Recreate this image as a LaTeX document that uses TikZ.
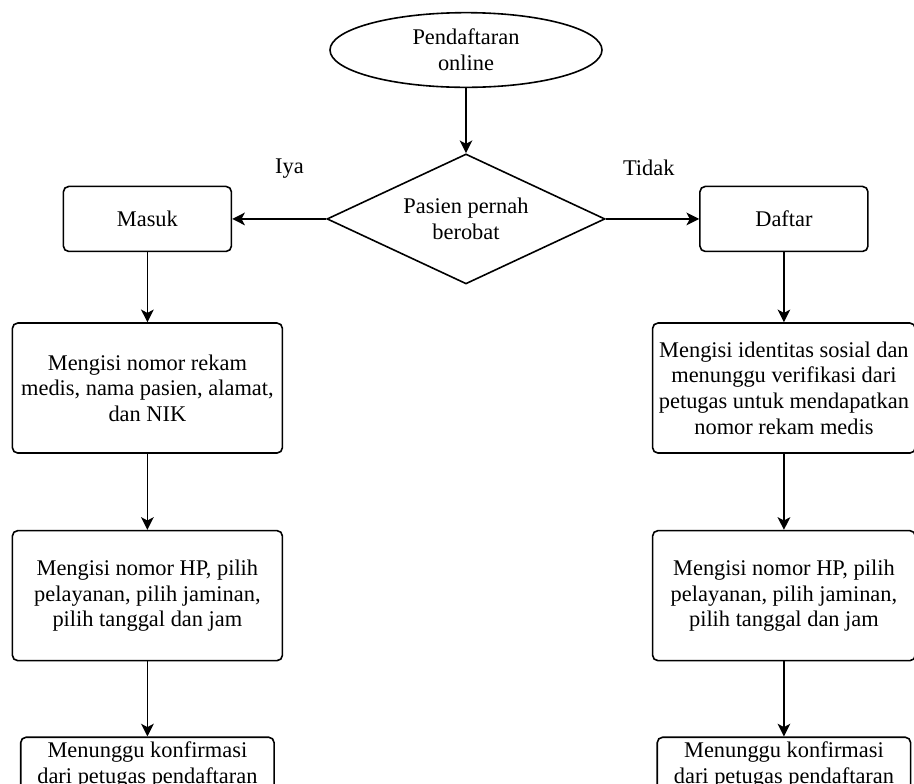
\documentclass[tikz,border=0pt]{standalone}
\usepackage{fontspec}
\setmainfont{Liberation Serif}
\usetikzlibrary{positioning, shapes.geometric, arrows.meta}

\begin{document}
\begin{tikzpicture}[
x=0.75pt, y=-0.75pt,
every node/.style={font=\fontsize{16.8}{19.2}\selectfont},
terminal/.style={ellipse, draw, line width=1.2pt, minimum width=204pt, minimum height=56pt, inner sep=0pt, align=center},
decision/.style={diamond, draw, line width=1.2pt, aspect=2.14, minimum width=208.5pt, minimum height=97.5pt, inner sep=0pt, align=center},
process/.style={rectangle, draw, rounded corners=4pt, line width=1.2pt, align=center, minimum width=126pt, minimum height=48.75pt},
wideprocess/.style={process, minimum width=202.5pt, minimum height=97.5pt},
waitbox/.style={process, minimum width=190pt, inner sep=3.5pt, text depth=30pt},
branch/.style={inner sep=0pt},
arrow/.style={-{Stealth[length=9.5pt, width=9.5pt, inset=2.5pt]}, line width=1.2pt},
]

\useasboundingbox (0,0) rectangle (914,783);
\clip (0,0) rectangle (914,783);

\node[terminal] (start) at (466,50) {Pendaftaran\\online};
\node[decision] (cek) [below=48.75pt of start] {Pasien pernah\\berobat};

\node[process] (masuk) [left=70.5pt of cek] {Masuk};
\node[process] (daftar) [right=70pt of cek] {Daftar};

\node[wideprocess] (isiL) [below=52.5pt of masuk] {Mengisi nomor rekam\\medis, nama pasien, alamat,\\dan NIK};
\node[wideprocess] (layananL) [below=57pt of isiL] {Mengisi nomor HP, pilih\\pelayanan, pilih jaminan,\\pilih tanggal dan jam};
\node[waitbox] (tungguL) [below=56.25pt of layananL] {Menunggu konfirmasi\\dari petugas pendaftaran};

\node[wideprocess, minimum width=197pt] (isiR) [below=52.5pt of daftar] {Mengisi identitas sosial dan\\menunggu verifikasi dari\\petugas untuk mendapatkan\\nomor rekam medis};
\node[wideprocess, minimum width=197pt] (layananR) [below=57pt of isiR] {Mengisi nomor HP, pilih\\pelayanan, pilih jaminan,\\pilih tanggal dan jam};
\node[waitbox] (tungguR) [below=56.25pt of layananR] {Menunggu konfirmasi\\dari petugas pendaftaran};

\draw[arrow] (start.south) -- (cek.north);
\draw[arrow] (cek.west) -- node[branch, pos=0.39, above=30pt] (iya) {Iya} (masuk.east);
\draw[arrow] (cek.east) -- node[branch, pos=0.46, above=32pt] (tidak) {Tidak} (daftar.west);

\draw[arrow] (masuk.south) -- (isiL.north);
\draw[arrow] (isiL.south) -- (layananL.north);
\draw[arrow] (layananL.south) -- (tungguL.north);

\draw[arrow] (daftar.south) -- (isiR.north);
\draw[arrow] (isiR.south) -- (layananR.north);
\draw[arrow] (layananR.south) -- (tungguR.north);

\end{tikzpicture}
\end{document}
